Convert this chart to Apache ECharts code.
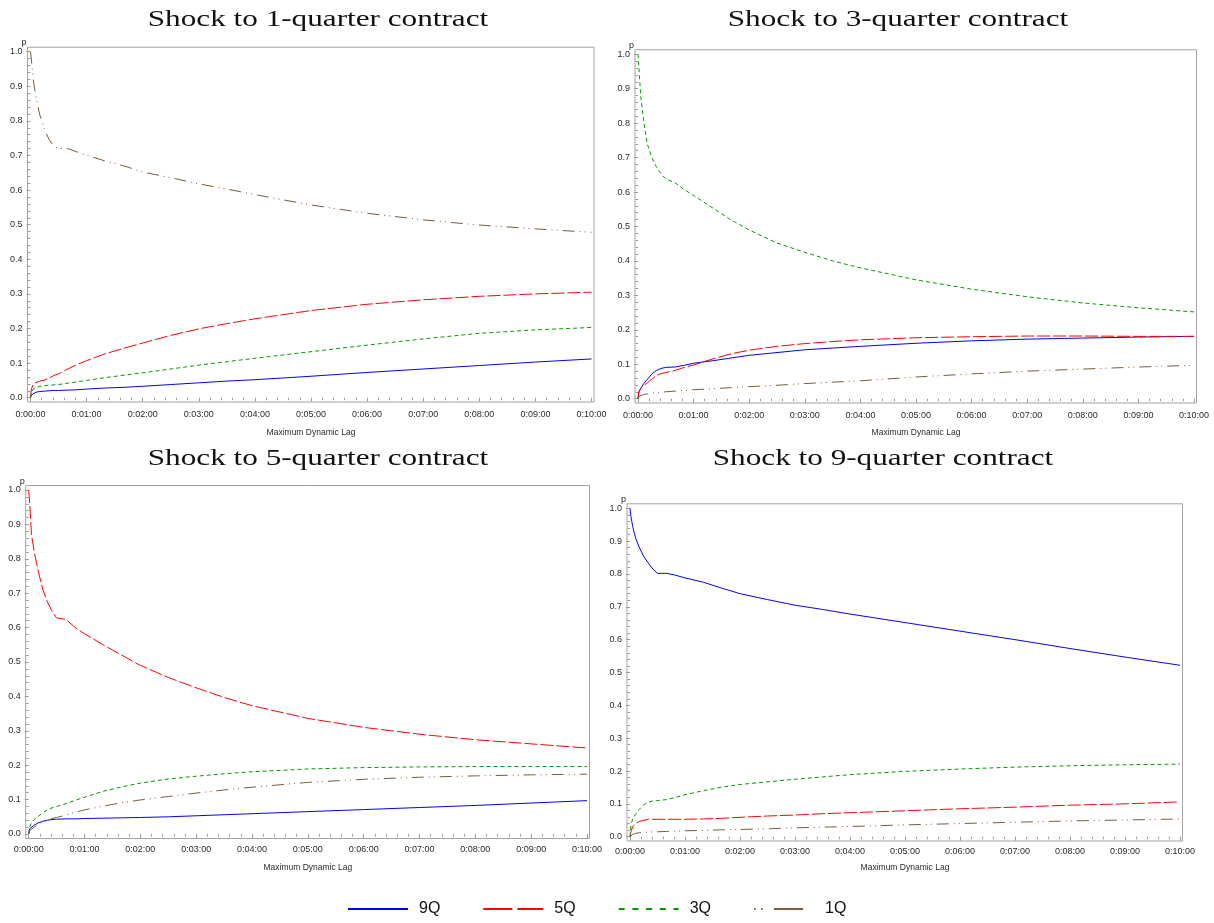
<!DOCTYPE html>
<html>
<head>
<meta charset="utf-8">
<script src="https://cdn.jsdelivr.net/npm/echarts@6/dist/echarts.min.js"></script>
<style>
  html, body { margin: 0; padding: 0; background: #ffffff; }
  #chart { width: 1214px; height: 923px; }
</style>
</head>
<body>
<div id="chart"></div>
<script>
// Maximum dynamic lag, in seconds (x positions shared by every curve)
const lagSeconds = [0, 1, 3, 6, 10, 15, 20, 25, 30, 40, 50, 60, 80, 100, 120, 150, 180, 210, 240, 300, 360, 420, 480, 540, 600];

const seriesNames = ['9Q', '5Q', '3Q', '1Q'];
const panelTitles = [
  'Shock to 1-quarter contract',
  'Shock to 3-quarter contract',
  'Shock to 5-quarter contract',
  'Shock to 9-quarter contract'
];
const xAxisTitle = 'Maximum Dynamic Lag';
const yAxisTitle = 'p';

// Shock to 1-quarter contract
const shock1_9Q = [0, 0.008, 0.013, 0.016, 0.018, 0.019, 0.020, 0.021, 0.021, 0.022, 0.023, 0.025, 0.028, 0.030, 0.033, 0.038, 0.043, 0.048, 0.052, 0.062, 0.073, 0.083, 0.093, 0.103, 0.112];
const shock1_5Q = [0, 0.025, 0.040, 0.044, 0.048, 0.051, 0.057, 0.064, 0.069, 0.083, 0.096, 0.107, 0.127, 0.143, 0.158, 0.180, 0.199, 0.214, 0.228, 0.252, 0.270, 0.283, 0.293, 0.300, 0.305];
const shock1_3Q = [0, 0.015, 0.025, 0.030, 0.033, 0.035, 0.036, 0.037, 0.038, 0.042, 0.046, 0.050, 0.058, 0.065, 0.072, 0.083, 0.094, 0.104, 0.114, 0.133, 0.152, 0.170, 0.186, 0.196, 0.203];
const shock1_1Q = [1.0, 0.976, 0.918, 0.866, 0.817, 0.776, 0.745, 0.727, 0.720, 0.720, 0.710, 0.701, 0.684, 0.670, 0.652, 0.636, 0.618, 0.603, 0.587, 0.557, 0.533, 0.514, 0.499, 0.488, 0.478];

// Shock to 3-quarter contract
const shock3_9Q = [0, 0.020, 0.030, 0.043, 0.056, 0.072, 0.082, 0.088, 0.091, 0.092, 0.097, 0.103, 0.110, 0.118, 0.126, 0.134, 0.142, 0.147, 0.152, 0.161, 0.168, 0.173, 0.176, 0.179, 0.181];
const shock3_5Q = [0, 0.020, 0.030, 0.038, 0.046, 0.057, 0.068, 0.073, 0.076, 0.082, 0.091, 0.098, 0.115, 0.130, 0.141, 0.152, 0.160, 0.166, 0.171, 0.177, 0.180, 0.182, 0.182, 0.181, 0.181];
const shock3_3Q = [1.0, 0.960, 0.877, 0.809, 0.740, 0.700, 0.672, 0.652, 0.638, 0.627, 0.607, 0.590, 0.555, 0.520, 0.490, 0.452, 0.425, 0.400, 0.380, 0.345, 0.318, 0.296, 0.278, 0.264, 0.252];
const shock3_1Q = [0, 0.006, 0.010, 0.012, 0.014, 0.016, 0.018, 0.019, 0.020, 0.022, 0.024, 0.026, 0.029, 0.032, 0.035, 0.039, 0.044, 0.048, 0.052, 0.063, 0.072, 0.080, 0.086, 0.092, 0.097];

// Shock to 5-quarter contract
const shock5_9Q = [0, 0.015, 0.020, 0.026, 0.032, 0.037, 0.040, 0.042, 0.043, 0.044, 0.044, 0.045, 0.046, 0.047, 0.048, 0.050, 0.053, 0.056, 0.059, 0.065, 0.071, 0.077, 0.083, 0.090, 0.097];
const shock5_5Q = [1.0, 0.965, 0.870, 0.820, 0.767, 0.712, 0.675, 0.648, 0.628, 0.624, 0.600, 0.582, 0.550, 0.520, 0.490, 0.455, 0.425, 0.397, 0.373, 0.336, 0.310, 0.290, 0.274, 0.262, 0.250];
const shock5_3Q = [0, 0.020, 0.033, 0.042, 0.051, 0.061, 0.070, 0.076, 0.080, 0.088, 0.098, 0.107, 0.124, 0.137, 0.148, 0.160, 0.168, 0.175, 0.181, 0.189, 0.193, 0.195, 0.196, 0.196, 0.196];
const shock5_1Q = [0, 0.010, 0.015, 0.020, 0.028, 0.034, 0.040, 0.045, 0.048, 0.055, 0.063, 0.070, 0.081, 0.091, 0.099, 0.109, 0.119, 0.128, 0.136, 0.150, 0.159, 0.165, 0.169, 0.172, 0.174];

// Shock to 9-quarter contract
const shock9_9Q = [1.0, 0.975, 0.944, 0.910, 0.882, 0.853, 0.833, 0.815, 0.802, 0.802, 0.796, 0.788, 0.775, 0.757, 0.740, 0.722, 0.705, 0.692, 0.678, 0.652, 0.626, 0.600, 0.573, 0.547, 0.522];
const shock9_5Q = [0, 0.015, 0.031, 0.040, 0.046, 0.050, 0.053, 0.053, 0.053, 0.053, 0.053, 0.053, 0.054, 0.056, 0.059, 0.063, 0.066, 0.070, 0.073, 0.079, 0.085, 0.090, 0.096, 0.100, 0.106];
const shock9_3Q = [0, 0.035, 0.055, 0.068, 0.083, 0.097, 0.105, 0.109, 0.110, 0.113, 0.120, 0.128, 0.140, 0.151, 0.159, 0.167, 0.175, 0.182, 0.189, 0.199, 0.206, 0.212, 0.216, 0.219, 0.221];
const shock9_1Q = [0, 0.004, 0.007, 0.010, 0.012, 0.013, 0.014, 0.015, 0.015, 0.016, 0.017, 0.018, 0.019, 0.021, 0.022, 0.024, 0.027, 0.029, 0.031, 0.036, 0.040, 0.044, 0.048, 0.051, 0.054];

const panelValues = [
  [shock1_9Q, shock1_5Q, shock1_3Q, shock1_1Q],
  [shock3_9Q, shock3_5Q, shock3_3Q, shock3_1Q],
  [shock5_9Q, shock5_5Q, shock5_3Q, shock5_1Q],
  [shock9_9Q, shock9_5Q, shock9_3Q, shock9_1Q]
];

// ---- layout and styling ----
// plot: data area; frame: border box drawn slightly outside the data area
const panelLayout = [
  { plot: { left: 30.5, top: 51.7, width: 561, height: 346 },   frameBottom: 402,   titleX: 318, titleY: 19.5,  nameGap: 26.5, labelMargin: 8 },
  { plot: { left: 638,  top: 54.3, width: 556, height: 344.4 }, frameBottom: 403,   titleX: 898, titleY: 19.5,  nameGap: 25.5, labelMargin: 8 },
  { plot: { left: 28.7, top: 490,  width: 558.3, height: 344 }, frameBottom: 838.5, titleX: 318, titleY: 458.5, nameGap: 25,   labelMargin: 7 },
  { plot: { left: 630,  top: 508.3, width: 550, height: 328.4 }, frameBottom: 841,  titleX: 883, titleY: 458.5, nameGap: 22.5, labelMargin: 6.5 }
];
const insetLeft = 3, insetRight = 2.5, insetTop = 4.5;

const lineColors = ['#0000ff', '#ff0000', '#009a00', '#7a5c3a'];
const lineDashes = ['solid', [13, 3], [4, 3], [12, 5, 1, 4, 1, 5]];
const legendDashes = ['solid', [29, 5], [6, 7.7], [1.5, 5.5, 1.5, 11.5, 29, 11]];

const frameColor = '#a3a3a3';
const tickColor = '#9a9a9a';
const labelColor = '#2a2a2a';
const sansFont = 'Liberation Sans';
const titleFont = 'normal 24px "Liberation Serif"';
const titleStretch = 1.3;

function minuteLabel(v) {
  const m = Math.round(v / 60);
  return '0:' + String(m).padStart(2, '0') + ':00';
}

const grids = [], xAxes = [], yAxes = [], titleTexts = [], series = [];

panelLayout.forEach((lay, i) => {
  const p = lay.plot;
  grids.push({
    left: p.left, top: p.top, width: p.width, height: p.height,
    containLabel: false, outerBoundsMode: 'none'
  });
  // panel heading, set in a wide serif face
  titleTexts.push({
    type: 'text', x: lay.titleX, y: lay.titleY, scaleX: titleStretch, scaleY: 1,
    silent: true,
    style: {
      text: panelTitles[i], font: titleFont, fill: '#111',
      align: 'center', verticalAlign: 'middle',
      textAlign: 'center', textVerticalAlign: 'middle'
    }
  });
  const xOffset = lay.frameBottom - (p.top + p.height);
  xAxes.push({
    type: 'value', gridIndex: i, min: 0, max: 600, interval: 60, offset: xOffset,
    axisLine: { show: false },
    axisTick: { show: true, length: 4, lineStyle: { color: tickColor } },
    minorTick: { show: true, splitNumber: 5, length: 2.5, lineStyle: { color: tickColor } },
    splitLine: { show: false },
    axisLabel: { margin: lay.labelMargin, fontSize: 9, fontFamily: sansFont, color: labelColor, formatter: minuteLabel, hideOverlap: false },
    name: xAxisTitle, nameLocation: 'middle', nameGap: lay.nameGap,
    nameTextStyle: { fontSize: 8.5, fontFamily: sansFont, color: labelColor }
  });
  yAxes.push({
    type: 'value', gridIndex: i, min: 0, max: 1, interval: 0.1, offset: insetLeft,
    axisLine: { show: false },
    axisTick: { show: true, length: 4, lineStyle: { color: tickColor } },
    minorTick: { show: true, splitNumber: 5, length: 2.5, lineStyle: { color: tickColor } },
    splitLine: { show: false },
    axisLabel: { margin: 5, fontSize: 9, fontFamily: sansFont, color: labelColor, formatter: v => v.toFixed(1) },
    name: yAxisTitle, nameLocation: 'end', nameGap: 3,
    nameTextStyle: { fontSize: 9, fontFamily: sansFont, color: labelColor, align: 'right', padding: [0, 4, 0, 0] }
  });
  panelValues[i].forEach((vals, k) => {
    series.push({
      type: 'line', name: seriesNames[k], xAxisIndex: i, yAxisIndex: i,
      data: lagSeconds.map((x, j) => [x, vals[j]]),
      symbol: 'none', showSymbol: false,
      lineStyle: { color: lineColors[k], width: 1, type: lineDashes[k] },
      itemStyle: { color: lineColors[k] },
      emphasis: { disabled: true }
    });
  });
});

// Border frames around each plot area (grids with hidden axes)
panelLayout.forEach((lay, i) => {
  const p = lay.plot;
  const top = p.top - insetTop;
  grids.push({
    left: p.left - insetLeft, top: top,
    width: p.width + insetLeft + insetRight, height: lay.frameBottom - top,
    show: true, borderColor: frameColor, borderWidth: 1, backgroundColor: 'transparent',
    containLabel: false, outerBoundsMode: 'none'
  });
  xAxes.push({ type: 'value', gridIndex: 4 + i, show: false, min: 0, max: 1 });
  yAxes.push({ type: 'value', gridIndex: 4 + i, show: false, min: 0, max: 1 });
});

const chart = echarts.init(document.getElementById('chart'), null, { renderer: 'canvas' });
chart.setOption({
  backgroundColor: '#ffffff',
  animation: false,
  graphic: titleTexts,
  grid: grids,
  xAxis: xAxes,
  yAxis: yAxes,
  legend: {
    left: 347, top: 901, orient: 'horizontal', padding: 0,
    itemWidth: 60, itemHeight: 14, itemGap: 42,
    textStyle: { fontFamily: sansFont, fontSize: 16, color: '#111', padding: [0, 0, 0, 6] },
    itemStyle: { opacity: 0, borderWidth: 0 },
    lineStyle: { width: 2 },
    data: seriesNames.map((n, k) => ({ name: n, lineStyle: { type: legendDashes[k], width: 2 } }))
  },
  series: series
});
</script>
</body>
</html>
